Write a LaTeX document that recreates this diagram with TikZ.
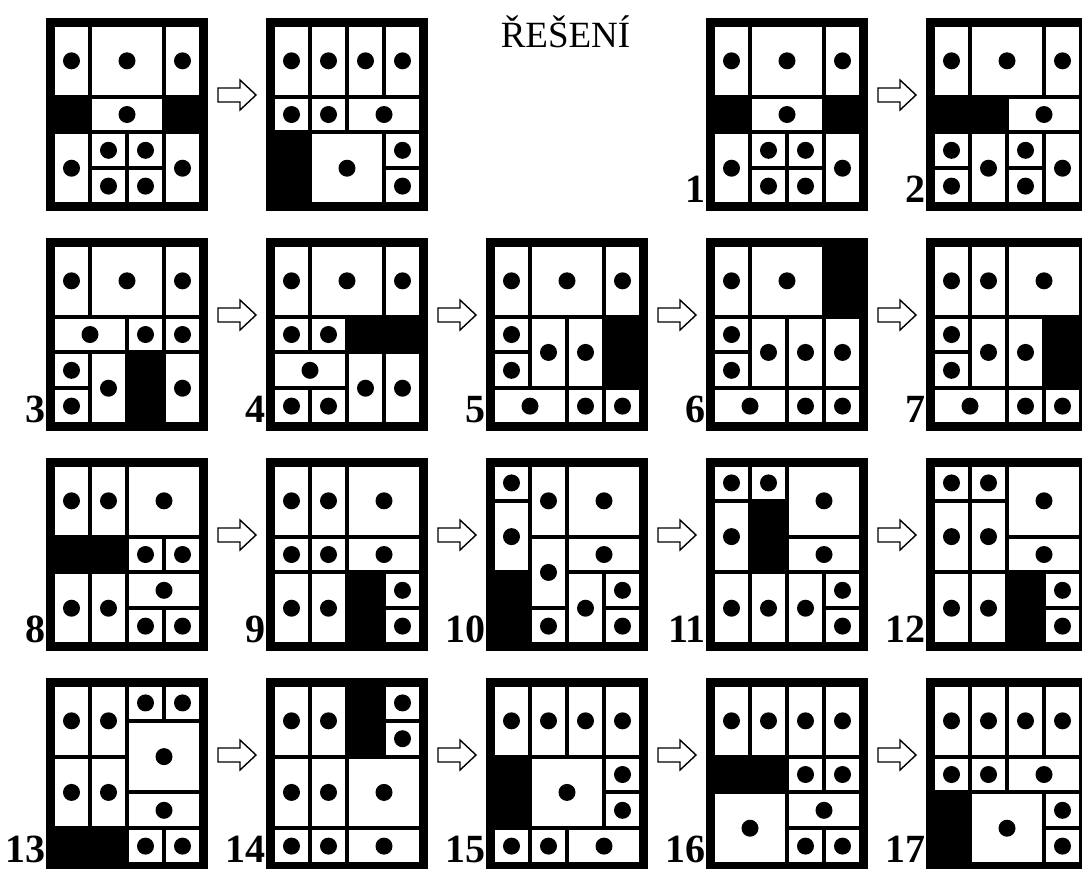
\documentclass[tikz,border=0pt]{standalone}
\usepackage{fontspec}
\setmainfont{Liberation Serif}
\usetikzlibrary{positioning,calc}

% one board: name, placement, pieces as col1/row1/col2/row2
\newcommand{\puzzle}[3]{%
  \node[frame,#2] (#1) {};
  \foreach \xa/\ya/\xb/\yb in {#3} {
    \path ($(#1.north west)+(9+37*\xa,9+35.8*\ya)$) coordinate (ul)
          ($(#1.north west)+(42+37*\xb,40.8+35.8*\yb)$) coordinate (lr);
    \fill[piece] (ul) rectangle (lr);
    \fill ($(ul)!.5!(lr)$) circle (8.5pt);
  }
}

\begin{document}
\begin{tikzpicture}[
  x=1pt,y=-1pt,
  frame/.style={fill=black,inner sep=0pt,outer sep=0pt,minimum width=162pt,minimum height=193pt,anchor=north west},
  piece/.style={fill=white},
  move/.style={draw=black,fill=white,line width=1.4pt,line join=miter},
  num/.style={font=\fontsize{40}{40}\selectfont\bfseries,anchor=base east,inner sep=0pt,text depth=0pt},
  title/.style={font=\fontsize{37}{37}\selectfont,anchor=base,inner sep=0pt}
]
\useasboundingbox (0,0) rectangle (1082,868);
\clip (0,0) rectangle (1082,868);

\node[title] (head) at (565.5,47) {ŘEŠENÍ};

% row 1
\puzzle{start}{at={(46,18)}}{0/0/0/1,1/0/2/1,3/0/3/1,1/2/2/2,0/3/0/4,1/3/1/3,2/3/2/3,1/4/1/4,2/4/2/4,3/3/3/4}
\puzzle{goal}{right=58pt of start}{0/0/0/1,1/0/1/1,2/0/2/1,3/0/3/1,0/2/0/2,1/2/1/2,2/2/3/2,1/3/2/4,3/3/3/3,3/4/3/4}
\puzzle{s1}{right=278pt of goal}{0/0/0/1,1/0/2/1,3/0/3/1,1/2/2/2,0/3/0/4,1/3/1/3,2/3/2/3,1/4/1/4,2/4/2/4,3/3/3/4}
\puzzle{s2}{right=58pt of s1}{0/0/0/1,1/0/2/1,3/0/3/1,2/2/3/2,0/3/0/3,0/4/0/4,1/3/1/4,2/3/2/3,2/4/2/4,3/3/3/4}

% row 2
\puzzle{s3}{below=27pt of start}{0/0/0/1,1/0/2/1,3/0/3/1,0/2/1/2,2/2/2/2,3/2/3/2,0/3/0/3,0/4/0/4,1/3/1/4,3/3/3/4}
\puzzle{s4}{right=58pt of s3}{0/0/0/1,1/0/2/1,3/0/3/1,0/2/0/2,1/2/1/2,0/3/1/3,0/4/0/4,1/4/1/4,2/3/2/4,3/3/3/4}
\puzzle{s5}{right=58pt of s4}{0/0/0/1,1/0/2/1,3/0/3/1,0/2/0/2,0/3/0/3,1/2/1/3,2/2/2/3,0/4/1/4,2/4/2/4,3/4/3/4}
\puzzle{s6}{right=58pt of s5}{0/0/0/1,1/0/2/1,0/2/0/2,0/3/0/3,1/2/1/3,2/2/2/3,3/2/3/3,0/4/1/4,2/4/2/4,3/4/3/4}
\puzzle{s7}{right=58pt of s6}{0/0/0/1,1/0/1/1,2/0/3/1,0/2/0/2,0/3/0/3,1/2/1/3,2/2/2/3,0/4/1/4,2/4/2/4,3/4/3/4}

% row 3
\puzzle{s8}{below=27pt of s3}{0/0/0/1,1/0/1/1,2/0/3/1,2/2/2/2,3/2/3/2,0/3/0/4,1/3/1/4,2/3/3/3,2/4/2/4,3/4/3/4}
\puzzle{s9}{right=58pt of s8}{0/0/0/1,1/0/1/1,2/0/3/1,0/2/0/2,1/2/1/2,2/2/3/2,0/3/0/4,1/3/1/4,3/3/3/3,3/4/3/4}
\puzzle{s10}{right=58pt of s9}{0/0/0/0,0/1/0/2,1/0/1/1,2/0/3/1,2/2/3/2,1/2/1/3,1/4/1/4,2/3/2/4,3/3/3/3,3/4/3/4}
\puzzle{s11}{right=58pt of s10}{0/0/0/0,1/0/1/0,2/0/3/1,0/1/0/2,2/2/3/2,0/3/0/4,1/3/1/4,2/3/2/4,3/3/3/3,3/4/3/4}
\puzzle{s12}{right=58pt of s11}{0/0/0/0,1/0/1/0,2/0/3/1,0/1/0/2,1/1/1/2,2/2/3/2,0/3/0/4,1/3/1/4,3/3/3/3,3/4/3/4}

% row 4
\puzzle{s13}{below=27pt of s8}{0/0/0/1,1/0/1/1,2/0/2/0,3/0/3/0,2/1/3/2,0/2/0/3,1/2/1/3,2/3/3/3,2/4/2/4,3/4/3/4}
\puzzle{s14}{right=58pt of s13}{0/0/0/1,1/0/1/1,3/0/3/0,3/1/3/1,0/2/0/3,1/2/1/3,2/2/3/3,0/4/0/4,1/4/1/4,2/4/3/4}
\puzzle{s15}{right=58pt of s14}{0/0/0/1,1/0/1/1,2/0/2/1,3/0/3/1,1/2/2/3,3/2/3/2,3/3/3/3,0/4/0/4,1/4/1/4,2/4/3/4}
\puzzle{s16}{right=58pt of s15}{0/0/0/1,1/0/1/1,2/0/2/1,3/0/3/1,2/2/2/2,3/2/3/2,0/3/1/4,2/3/3/3,2/4/2/4,3/4/3/4}
\puzzle{s17}{right=58pt of s16}{0/0/0/1,1/0/1/1,2/0/2/1,3/0/3/1,0/2/0/2,1/2/1/2,2/2/3/2,1/3/2/4,3/3/3/3,3/4/3/4}

% step numbers
\foreach \n in {1,...,17}
  \node[num] (n\n) at ($(s\n.south west)+(0,-9)$) {\n};

% moves
\foreach \a/\b in {start/goal,s1/s2,s3/s4,s4/s5,s5/s6,s6/s7,s8/s9,s9/s10,s10/s11,s11/s12,s13/s14,s14/s15,s15/s16,s16/s17}
  \draw[move] ($(\a.north east)!.5!(\b.north west)+(-19,70)$) -- ++(22,0) -- ++(0,-8) -- ++(16,15)
    -- ++(-16,15) -- ++(0,-8) -- ++(-22,0) -- cycle;
\end{tikzpicture}
\end{document}
